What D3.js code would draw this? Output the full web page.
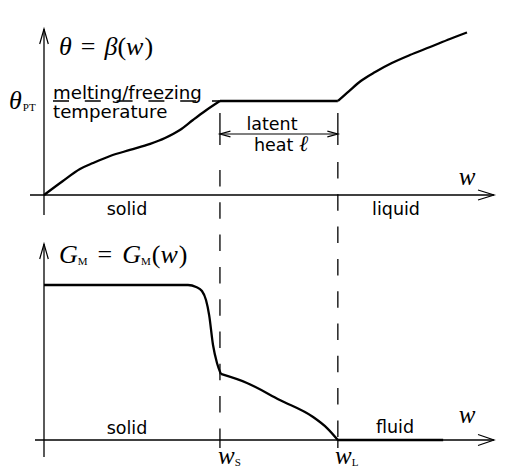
<!DOCTYPE html>
<html><head><meta charset="utf-8">
<script src="https://cdn.jsdelivr.net/npm/d3@7"></script>
<style>body{margin:0;background:#fff}svg{display:block}</style>
</head><body>
<script>
// ---- data ----
const wS = 3.91, wL = 6.53;
const topW     = [0, 0.42, 0.8, 1.09, 1.47, 1.91, 2.36, 2.69, 3.02, 3.31, 3.58, 3.91, 6.53, 6.78, 7.04, 7.36, 7.73, 8.13, 8.58, 9.02, 9.4];
const topTheta = [0, 0.149, 0.277, 0.34, 0.415, 0.479, 0.543, 0.606, 0.691, 0.798, 0.894, 1, 1, 1.106, 1.213, 1.309, 1.404, 1.489, 1.574, 1.66, 1.729];
const botW = [0, 3.2, 3.38, 3.51, 3.6, 3.67, 3.756, 3.844, 3.93, 4.51, 5.24, 5.98, 6.29, 6.53, 8.87];
const botG = [1, 1, 0.987, 0.961, 0.903, 0.806, 0.613, 0.497, 0.426, 0.368, 0.258, 0.148, 0.077, 0, 0];
const topBreaks = [11, 12]; // kinks
const botBreaks = [8, 13];

const W = 528, H = 476;
const svg = d3.select("body").append("svg").attr("width", W).attr("height", H);
const x = d3.scaleLinear().domain([0, 10]).range([44, 494]);
const yT = d3.scaleLinear().domain([0, 1]).range([195, 101]);
const yB = d3.scaleLinear().domain([0, 1]).range([440, 285]);

const sans = "DejaVu Sans", serif = "Liberation Serif";
const ink = "#000";

function seg(x1, y1, x2, y2, w, dash) {
  const l = svg.append("line").attr("x1", x1).attr("y1", y1).attr("x2", x2).attr("y2", y2)
    .attr("stroke", ink).attr("stroke-width", w || 1.3);
  if (dash) l.attr("stroke-dasharray", dash);
  return l;
}
function openHead(tx, ty, dx, dy, len, half) {
  const px = -dy, py = dx;
  const p = d3.path();
  p.moveTo(tx - dx * len + px * half, ty - dy * len + py * half);
  p.lineTo(tx, ty);
  p.lineTo(tx - dx * len - px * half, ty - dy * len - py * half);
  svg.append("path").attr("d", p.toString()).attr("fill", "none").attr("stroke", ink).attr("stroke-width", 1.2);
}

// ---- dashed guides ----
seg(53, yT(1), x(wS), yT(1), 1.3, "16,15.8");
seg(x(wS), 170, x(wS), 440, 1.3, "16.5,15.8");
seg(x(wL), 162, x(wL), 440, 1.3, "16.5,15.8");
seg(x(wS), 440, x(wS), 448, 1.3);
seg(x(wL), 440, x(wL), 448, 1.3);

// latent heat dimension
seg(x(wS), 113, x(wS), 145, 1.3);
seg(x(wL), 113, x(wL), 145, 1.3);
seg(x(wS), 134, x(wL), 134, 1.1);
openHead(x(wS), 134, -1, 0, 10.5, 2.8);
openHead(x(wL), 134, 1, 0, 10.5, 2.8);

// ---- axes ----
seg(30, yT(0), 494, yT(0), 1.3);
openHead(494, yT(0), 1, 0, 16, 5);
seg(x(0), 215, x(0), 29, 1.3);
openHead(x(0), 29, 0, -1, 15, 4.3);
seg(35, yB(0), 494, yB(0), 1.3);
openHead(494, yB(0), 1, 0, 16, 5.5);
seg(x(0), 457, x(0), 244, 1.3);
openHead(x(0), 244, 0, -1, 15, 4.3);

// ---- curves ----
function drawPieces(ws, vs, breaks, ys) {
  const idx = [0, ...breaks, ws.length - 1];
  const line = d3.line().x(i => x(ws[i])).y(i => ys(vs[i])).curve(d3.curveMonotoneX);
  for (let k = 0; k < idx.length - 1; k++) {
    const ii = d3.range(idx[k], idx[k + 1] + 1);
    svg.append("path").attr("d", line(ii)).attr("fill", "none").attr("stroke", ink)
      .attr("stroke-width", 2.3).attr("stroke-linejoin", "round");
  }
}
drawPieces(topW, topTheta, topBreaks, yT);
drawPieces(botW, botG, botBreaks, yB);

// ---- text ----
function txt(xx, yy, family, size, anchor, style) {
  return svg.append("text").attr("x", xx).attr("y", yy).attr("font-family", family)
    .attr("font-size", size).attr("text-anchor", anchor || "start")
    .attr("font-style", style || "normal").attr("fill", ink);
}
function sp(t, s, opts) {
  const o = opts || {};
  const e = t.append("tspan").text(s);
  if (o.it) e.attr("font-style", "italic");
  if (o.size) e.attr("font-size", o.size);
  if (o.dx) e.attr("dx", o.dx);
  if (o.dy) e.attr("dy", o.dy);
  return e;
}
// theta = beta(w)
let t = txt(59, 55, serif, 26);
sp(t, "θ", {it: 1});
sp(t, "=", {dx: 9});
sp(t, "β", {it: 1, dx: 9});
sp(t, "(");
sp(t, "w", {it: 1});
sp(t, ")", {dx: 1});

// theta_PT
t = txt(9, 109, serif, 26);
sp(t, "θ", {it: 1});
sp(t, "PT", {size: 11, dy: 2, dx: 1});

txt(53, 99, sans, 18.2).text("melting/freezing");
txt(53, 118, sans, 18.2).text("temperature");

txt(272, 130, sans, 17.5, "middle").text("latent");
t = txt(281, 151, sans, 17.5, "middle");
sp(t, "heat ");
t.append("tspan").attr("font-family", serif).attr("font-style", "italic").attr("font-size", 22).text("ℓ");

txt(127, 215, sans, 17.5, "middle").text("solid");
txt(396, 215, sans, 17.5, "middle").text("liquid");
txt(467, 185, serif, 25, "middle", "italic").text("w");

// G_M = G_M(w)
t = txt(59, 263, serif, 26);
sp(t, "G", {it: 1});
sp(t, "M", {size: 11, dy: 2, dx: 0});
sp(t, "=", {dx: 10, dy: -2});
sp(t, "G", {it: 1, dx: 10});
sp(t, "M", {size: 11, dy: 2});
sp(t, "(", {dy: -2, dx: 1});
sp(t, "w", {it: 1});
sp(t, ")", {dx: 1});

txt(127, 434, sans, 17.5, "middle").text("solid");
txt(395, 433, sans, 17.5, "middle").text("fluid");
txt(467, 423, serif, 25, "middle", "italic").text("w");

t = txt(218, 464, serif, 25);
sp(t, "w", {it: 1});
sp(t, "S", {size: 11, dy: 2});
t = txt(335, 464, serif, 25);
sp(t, "w", {it: 1});
sp(t, "L", {size: 11, dy: 2});
</script>
</body></html>
